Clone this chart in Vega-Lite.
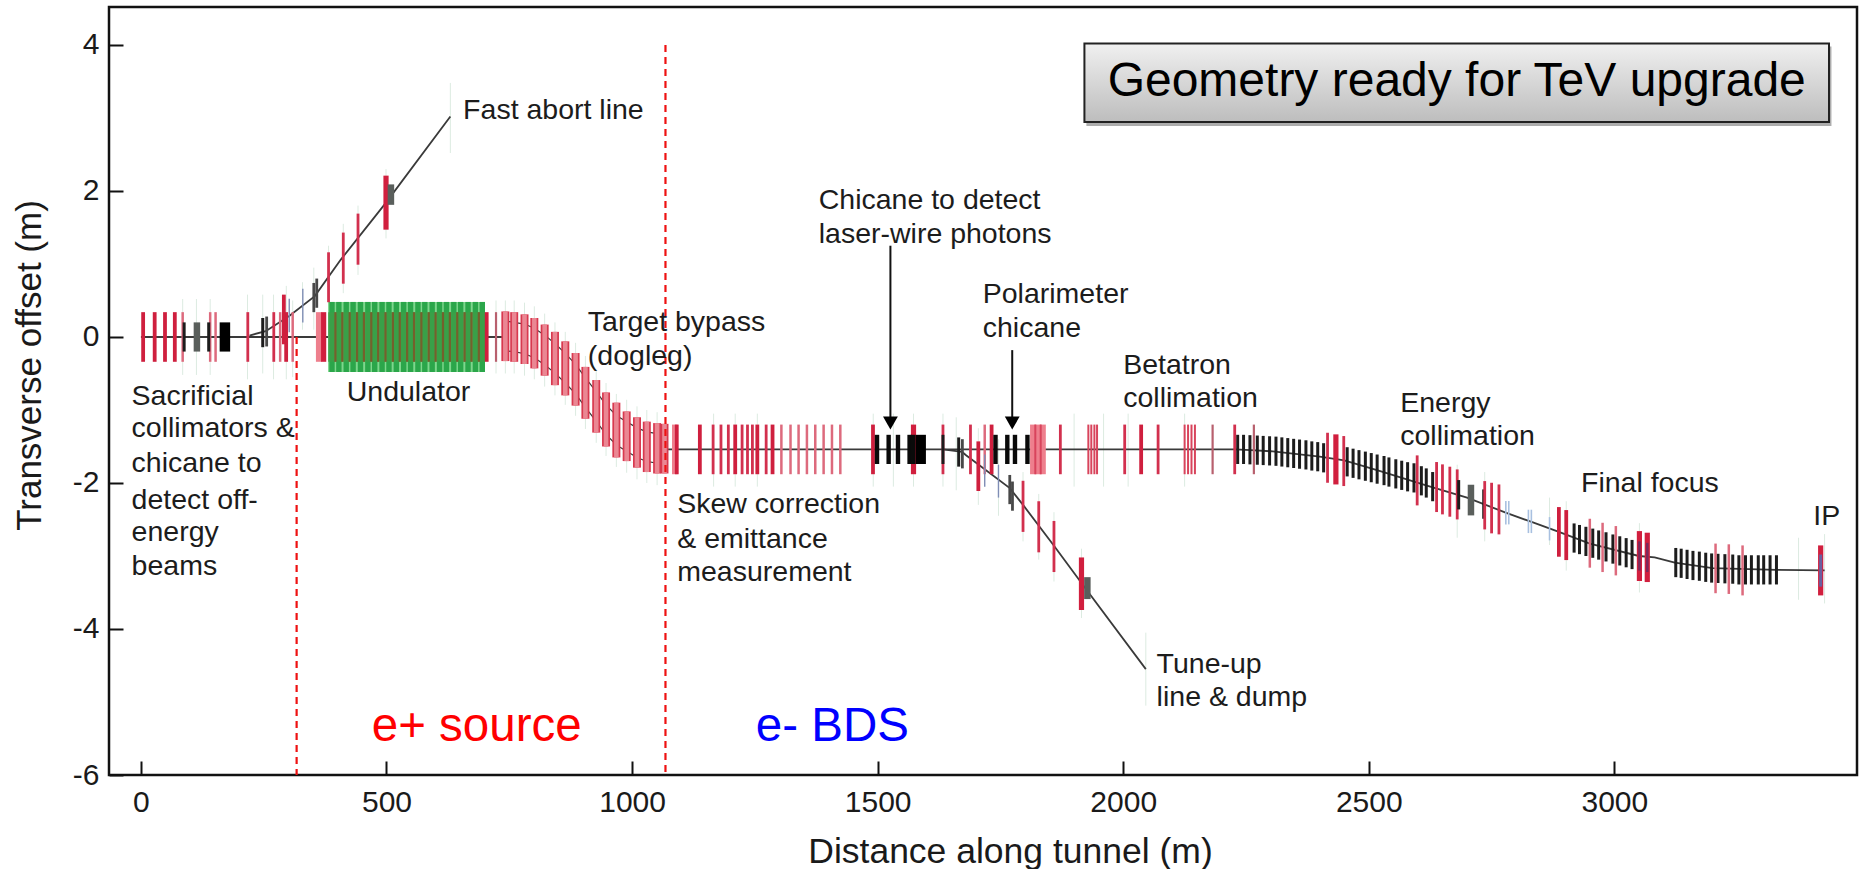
{"$schema":"https://vega.github.io/schema/vega-lite/v6.json","width":1748,"height":768,"autosize":"none","padding":{"left":109,"top":7,"right":7,"bottom":94},"background":"#ffffff","config":{"font":"Liberation Sans","view":{"stroke":"#111111","strokeWidth":2.5}},
"datasets":{
"box":[{"s":1925,"s2":3442,"y":3.98,"y2":2.89,"kind":"shadow"}],
"boxmain":[{"s":1921,"s2":3437,"y":4.02,"y2":2.944}],
"halo":[{"s":85,"y":0.52,"y2":-0.52},{"s":113,"y":0.52,"y2":-0.52},{"s":141,"y":0.52,"y2":-0.52},{"s":217,"y":0.58,"y2":-0.58},{"s":248,"y":0.58,"y2":-0.5},{"s":270,"y":0.58,"y2":-0.58},{"s":296,"y":0.7,"y2":-0.58},{"s":309,"y":0.5,"y2":-0.55},{"s":329,"y":0.75,"y2":0.1},{"s":352,"y":0.95,"y2":0.1},{"s":382,"y":1.25,"y2":0.5},{"s":412,"y":1.55,"y2":0.6},{"s":442,"y":1.8,"y2":0.85},{"s":499,"y":2.3,"y2":1.35},{"s":630,"y":3.48,"y2":2.52},{"s":723,"y":0.5,"y2":-0.5},{"s":742,"y":0.5,"y2":-0.5},{"s":760,"y":0.5,"y2":-0.5},{"s":781,"y":0.47,"y2":-0.53},{"s":801,"y":0.42,"y2":-0.58},{"s":822,"y":0.32,"y2":-0.68},{"s":843,"y":0.2,"y2":-0.8},{"s":864,"y":0.07,"y2":-0.93},{"s":885,"y":-0.08,"y2":-1.08},{"s":905,"y":-0.26,"y2":-1.26},{"s":927,"y":-0.45,"y2":-1.45},{"s":947,"y":-0.63,"y2":-1.63},{"s":968,"y":-0.78,"y2":-1.78},{"s":989,"y":-0.86,"y2":-1.86},{"s":1010,"y":-0.95,"y2":-1.95},{"s":1030,"y":-1.0,"y2":-2.0},{"s":1051,"y":-1.03,"y2":-2.03},{"s":1166,"y":-1.05,"y2":-2.05},{"s":1210,"y":-1.05,"y2":-2.05},{"s":1255,"y":-1.05,"y2":-2.05},{"s":1491,"y":-1.05,"y2":-2.05},{"s":1532,"y":-1.05,"y2":-2.05},{"s":1573,"y":-1.05,"y2":-2.05},{"s":1633,"y":-1.05,"y2":-2.05},{"s":1660,"y":-1.1,"y2":-2.1},{"s":1705,"y":-1.25,"y2":-2.3},{"s":1746,"y":-1.4,"y2":-2.45},{"s":1796,"y":-1.85,"y2":-2.8},{"s":1828,"y":-2.15,"y2":-3.05},{"s":1859,"y":-2.4,"y2":-3.35},{"s":1915,"y":-2.9,"y2":-3.85},{"s":2046,"y":-4.05,"y2":-5.05},{"s":1900,"y":-1.05,"y2":-2.05},{"s":1960,"y":-1.05,"y2":-2.05},{"s":2125,"y":-1.05,"y2":-2.05},{"s":2010,"y":-1.05,"y2":-2.05},{"s":2680,"y":-1.75,"y2":-2.75},{"s":2736,"y":-1.85,"y2":-2.8},{"s":2868,"y":-2.2,"y2":-2.85},{"s":2902,"y":-2.25,"y2":-3.2},{"s":3051,"y":-2.55,"y2":-3.5},{"s":3375,"y":-2.75,"y2":-3.6},{"s":3428,"y":-2.7,"y2":-3.65}],
"beam":[{"s":0,"y":0,"seg":"a"},{"s":740,"y":0,"seg":"a"},
{"s":1070,"y":-1.54,"seg":"c"},{"s":2227,"y":-1.54,"seg":"c"},{"s":2260,"y":-1.55,"seg":"c"},{"s":2300,"y":-1.565,"seg":"c"},{"s":2400,"y":-1.64,"seg":"c"},{"s":2450,"y":-1.69,"seg":"c"},{"s":2520,"y":-1.83,"seg":"c"},{"s":2620,"y":-2.04,"seg":"c"},{"s":2700,"y":-2.2,"seg":"c"},{"s":2780,"y":-2.41,"seg":"c"},{"s":2830,"y":-2.53,"seg":"c"},{"s":2887,"y":-2.67,"seg":"c"},{"s":2950,"y":-2.83,"seg":"c"},{"s":3050,"y":-3.0,"seg":"c"},{"s":3082,"y":-3.02,"seg":"c"},{"s":3123,"y":-3.09,"seg":"c"},{"s":3200,"y":-3.165,"seg":"c"},{"s":3330,"y":-3.19,"seg":"c"},{"s":3428,"y":-3.197,"seg":"c"},
{"s":221,"y":0.02,"seg":"f"},{"s":254,"y":0.08,"seg":"f"},{"s":302,"y":0.287,"seg":"f"},{"s":354,"y":0.56,"seg":"f"},{"s":407,"y":1.06,"seg":"f"},{"s":499,"y":1.84,"seg":"f"},{"s":630,"y":3.02,"seg":"f"},
{"s":1633,"y":-1.54,"seg":"t"},{"s":1672,"y":-1.575,"seg":"t"},{"s":1680,"y":-1.62,"seg":"t"},{"s":1769,"y":-2.07,"seg":"t"},{"s":1796,"y":-2.3,"seg":"t"},{"s":1859,"y":-2.86,"seg":"t"},{"s":1915,"y":-3.37,"seg":"t"},{"s":2046,"y":-4.55,"seg":"t"}],
"rail":[{"s":741,"y":0.22,"seg":"u"},{"s":760,"y":0.2,"seg":"u"},{"s":781,"y":0.177,"seg":"u"},{"s":801,"y":0.12,"seg":"u"},{"s":822,"y":0.025,"seg":"u"},{"s":843,"y":-0.09,"seg":"u"},{"s":864,"y":-0.225,"seg":"u"},{"s":885,"y":-0.375,"seg":"u"},{"s":905,"y":-0.56,"seg":"u"},{"s":927,"y":-0.75,"seg":"u"},{"s":947,"y":-0.93,"seg":"u"},{"s":968,"y":-1.075,"seg":"u"},{"s":989,"y":-1.16,"seg":"u"},{"s":1010,"y":-1.245,"seg":"u"},{"s":1030,"y":-1.3,"seg":"u"},{"s":1051,"y":-1.325,"seg":"u"},{"s":1070,"y":-1.33,"seg":"u"},
{"s":741,"y":-0.19,"seg":"l"},{"s":760,"y":-0.2,"seg":"l"},{"s":781,"y":-0.23,"seg":"l"},{"s":801,"y":-0.285,"seg":"l"},{"s":822,"y":-0.38,"seg":"l"},{"s":843,"y":-0.495,"seg":"l"},{"s":864,"y":-0.63,"seg":"l"},{"s":885,"y":-0.78,"seg":"l"},{"s":905,"y":-0.965,"seg":"l"},{"s":927,"y":-1.155,"seg":"l"},{"s":947,"y":-1.335,"seg":"l"},{"s":968,"y":-1.48,"seg":"l"},{"s":989,"y":-1.565,"seg":"l"},{"s":1010,"y":-1.65,"seg":"l"},{"s":1030,"y":-1.705,"seg":"l"},{"s":1051,"y":-1.73,"seg":"l"},{"s":1070,"y":-1.73,"seg":"l"}],
"dogleg":[{"s":742,"y":0.35,"y2":-0.33},{"s":760,"y":0.34,"y2":-0.34},{"s":781,"y":0.31,"y2":-0.37},{"s":801,"y":0.26,"y2":-0.43},{"s":822,"y":0.17,"y2":-0.53},{"s":843,"y":0.07,"y2":-0.66},{"s":864,"y":-0.06,"y2":-0.8},{"s":885,"y":-0.22,"y2":-0.94},{"s":905,"y":-0.41,"y2":-1.12},{"s":927,"y":-0.59,"y2":-1.31},{"s":947,"y":-0.76,"y2":-1.5},{"s":968,"y":-0.9,"y2":-1.65},{"s":989,"y":-1.02,"y2":-1.7},{"s":1010,"y":-1.1,"y2":-1.79},{"s":1030,"y":-1.16,"y2":-1.85},{"s":1051,"y":-1.18,"y2":-1.87},{"s":1066,"y":-1.19,"y2":-1.87}],
"undrect":[{"s":381,"s2":700,"y":0.48,"y2":-0.48}],
"undinner":[{"s":381,"s2":700,"y":0.34,"y2":-0.34}],
"undcell":[{"s":389,"y":0.48,"y2":-0.48},{"s":403,"y":0.48,"y2":-0.48},{"s":418,"y":0.48,"y2":-0.48},{"s":432,"y":0.48,"y2":-0.48},{"s":447,"y":0.48,"y2":-0.48},{"s":462,"y":0.48,"y2":-0.48},{"s":476,"y":0.48,"y2":-0.48},{"s":491,"y":0.48,"y2":-0.48},{"s":505,"y":0.48,"y2":-0.48},{"s":520,"y":0.48,"y2":-0.48},{"s":535,"y":0.48,"y2":-0.48},{"s":549,"y":0.48,"y2":-0.48},{"s":564,"y":0.48,"y2":-0.48},{"s":578,"y":0.48,"y2":-0.48},{"s":593,"y":0.48,"y2":-0.48},{"s":608,"y":0.48,"y2":-0.48},{"s":622,"y":0.48,"y2":-0.48},{"s":637,"y":0.48,"y2":-0.48},{"s":651,"y":0.48,"y2":-0.48},{"s":666,"y":0.48,"y2":-0.48},{"s":681,"y":0.48,"y2":-0.48},{"s":695,"y":0.48,"y2":-0.48}],
"undcoil":[{"s":396,"y":0.34,"y2":-0.34},{"s":410,"y":0.34,"y2":-0.34},{"s":425,"y":0.34,"y2":-0.34},{"s":440,"y":0.34,"y2":-0.34},{"s":454,"y":0.34,"y2":-0.34},{"s":469,"y":0.34,"y2":-0.34},{"s":483,"y":0.34,"y2":-0.34},{"s":498,"y":0.34,"y2":-0.34},{"s":513,"y":0.34,"y2":-0.34},{"s":527,"y":0.34,"y2":-0.34},{"s":542,"y":0.34,"y2":-0.34},{"s":556,"y":0.34,"y2":-0.34},{"s":571,"y":0.34,"y2":-0.34},{"s":586,"y":0.34,"y2":-0.34},{"s":600,"y":0.34,"y2":-0.34},{"s":615,"y":0.34,"y2":-0.34},{"s":629,"y":0.34,"y2":-0.34},{"s":644,"y":0.34,"y2":-0.34},{"s":659,"y":0.34,"y2":-0.34},{"s":673,"y":0.34,"y2":-0.34},{"s":688,"y":0.34,"y2":-0.34}],
"elements":[
{"s":4.5,"y":0.34,"y2":-0.34,"kind":"red"},{"s":28,"y":0.34,"y2":-0.34,"kind":"red"},{"s":49,"y":0.34,"y2":-0.34,"kind":"red"},{"s":69,"y":0.34,"y2":-0.34,"kind":"red"},{"s":85,"y":0.34,"y2":-0.34,"kind":"pink"},{"s":88,"y":0.2,"y2":-0.2,"kind":"blackthin"},{"s":114,"y":0.2,"y2":-0.2,"kind":"gray"},{"s":141,"y":0.34,"y2":-0.34,"kind":"pink"},{"s":152,"y":0.34,"y2":-0.34,"kind":"pink"},{"s":138,"y":0.2,"y2":-0.2,"kind":"blackthin"},{"s":171,"y":0.2,"y2":-0.2,"kind":"blackblock"},{"s":217.6,"y":0.34,"y2":-0.34,"kind":"redthin"},{"s":248,"y":0.26,"y2":-0.14,"kind":"blackthin"},{"s":256,"y":0.28,"y2":-0.13,"kind":"graythin"},{"s":270.5,"y":0.34,"y2":-0.34,"kind":"redthin"},{"s":283.5,"y":0.34,"y2":-0.34,"kind":"pink"},{"s":295.7,"y":0.34,"y2":-0.34,"kind":"red"},{"s":309,"y":0.34,"y2":-0.34,"kind":"pink"},{"s":291,"y":0.58,"y2":-0.1,"kind":"red"},{"s":302,"y":0.525,"y2":0.065,"kind":"blue"},{"s":329.6,"y":0.66,"y2":0.2,"kind":"blue"},{"s":352,"y":0.74,"y2":0.34,"kind":"graythin"},{"s":358,"y":0.8,"y2":0.4,"kind":"graythin"},{"s":362,"y":0.34,"y2":-0.34,"kind":"pinkblock"},{"s":372,"y":0.34,"y2":-0.34,"kind":"redthick"},{"s":382,"y":1.16,"y2":0.476,"kind":"redthin"},{"s":412,"y":1.43,"y2":0.73,"kind":"redthin"},{"s":442,"y":1.69,"y2":0.99,"kind":"redthin"},{"s":499,"y":2.21,"y2":1.47,"kind":"redthick"},{"s":509,"y":2.09,"y2":1.81,"kind":"gray"},{"s":704,"y":0.34,"y2":-0.34,"kind":"red"},{"s":723,"y":0.34,"y2":-0.34,"kind":"dim"},
{"s":1087,"y":-1.2,"y2":-1.88,"kind":"pinkblock"},{"s":1091,"y":-1.2,"y2":-1.88,"kind":"red"},{"s":1138,"y":-1.2,"y2":-1.88,"kind":"red"},{"s":1165,"y":-1.2,"y2":-1.88,"kind":"redthin"},{"s":1181,"y":-1.2,"y2":-1.88,"kind":"redthin"},{"s":1196,"y":-1.2,"y2":-1.88,"kind":"redthin"},{"s":1210,"y":-1.2,"y2":-1.88,"kind":"red"},{"s":1224,"y":-1.2,"y2":-1.88,"kind":"redthin"},{"s":1235,"y":-1.2,"y2":-1.88,"kind":"redthin"},{"s":1245,"y":-1.2,"y2":-1.88,"kind":"redthin"},{"s":1255,"y":-1.2,"y2":-1.88,"kind":"red"},{"s":1273,"y":-1.2,"y2":-1.88,"kind":"redthin"},{"s":1286,"y":-1.2,"y2":-1.88,"kind":"red"},{"s":1304,"y":-1.2,"y2":-1.88,"kind":"pink"},{"s":1322.6,"y":-1.2,"y2":-1.88,"kind":"pink"},{"s":1339,"y":-1.2,"y2":-1.88,"kind":"pink"},{"s":1356,"y":-1.2,"y2":-1.88,"kind":"pink"},{"s":1373,"y":-1.2,"y2":-1.88,"kind":"pink"},{"s":1390,"y":-1.2,"y2":-1.88,"kind":"pink"},{"s":1407,"y":-1.2,"y2":-1.88,"kind":"pink"},{"s":1424,"y":-1.2,"y2":-1.88,"kind":"pink"},
{"s":1490.5,"y":-1.2,"y2":-1.88,"kind":"red"},{"s":1573,"y":-1.2,"y2":-1.88,"kind":"redthick"},{"s":1498.7,"y":-1.34,"y2":-1.74,"kind":"black"},{"s":1522.4,"y":-1.34,"y2":-1.74,"kind":"black"},{"s":1541.4,"y":-1.34,"y2":-1.74,"kind":"black"},{"s":1565,"y":-1.34,"y2":-1.74,"kind":"black"},{"s":1572,"y":-1.34,"y2":-1.74,"kind":"black"},{"s":1587.6,"y":-1.34,"y2":-1.74,"kind":"blackblock"},{"s":1633,"y":-1.2,"y2":-1.88,"kind":"redthin"},{"s":1633,"y":-1.34,"y2":-1.74,"kind":"blackthin"},{"s":1665,"y":-1.376,"y2":-1.776,"kind":"blackthin"},{"s":1672.5,"y":-1.4,"y2":-1.8,"kind":"graythin"},{"s":1689,"y":-1.2,"y2":-1.88,"kind":"redthin"},{"s":1705,"y":-1.43,"y2":-2.11,"kind":"red"},{"s":1718,"y":-1.2,"y2":-1.88,"kind":"pink"},{"s":1718,"y":-1.61,"y2":-2.05,"kind":"blue"},{"s":1732,"y":-1.2,"y2":-1.88,"kind":"red"},{"s":1740,"y":-1.34,"y2":-1.74,"kind":"black"},{"s":1746,"y":-1.75,"y2":-2.2,"kind":"blue"},{"s":1764,"y":-1.34,"y2":-1.74,"kind":"black"},{"s":1779.6,"y":-1.34,"y2":-1.74,"kind":"black"},{"s":1805,"y":-1.34,"y2":-1.74,"kind":"black"},{"s":1769,"y":-1.89,"y2":-2.29,"kind":"graythin"},{"s":1774.5,"y":-1.98,"y2":-2.38,"kind":"graythin"},{"s":1796,"y":-1.97,"y2":-2.67,"kind":"redthin"},{"s":1828,"y":-2.25,"y2":-2.95,"kind":"redthin"},{"s":1859,"y":-2.52,"y2":-3.22,"kind":"redthin"},{"s":1915,"y":-3.02,"y2":-3.74,"kind":"redthick"},{"s":1927,"y":-3.29,"y2":-3.59,"kind":"gray"},
{"s":1816,"y":-1.2,"y2":-1.88,"kind":"pinkblock"},{"s":1826.5,"y":-1.2,"y2":-1.88,"kind":"pinkblock"},{"s":1836.7,"y":-1.2,"y2":-1.88,"kind":"pinkblock"},{"s":1821,"y":-1.2,"y2":-1.88,"kind":"stripe"},{"s":1832,"y":-1.2,"y2":-1.88,"kind":"stripe"},{"s":1872,"y":-1.2,"y2":-1.88,"kind":"redthin"},{"s":1929,"y":-1.2,"y2":-1.88,"kind":"stripe"},{"s":1935,"y":-1.2,"y2":-1.88,"kind":"stripe"},{"s":1941.3,"y":-1.2,"y2":-1.88,"kind":"stripe"},{"s":1946.7,"y":-1.2,"y2":-1.88,"kind":"stripe"},{"s":2003,"y":-1.2,"y2":-1.88,"kind":"redthin"},{"s":2036.5,"y":-1.2,"y2":-1.88,"kind":"red"},{"s":2071,"y":-1.2,"y2":-1.88,"kind":"redthin"},{"s":2125,"y":-1.2,"y2":-1.88,"kind":"stripe"},{"s":2132,"y":-1.2,"y2":-1.88,"kind":"stripe"},{"s":2139,"y":-1.2,"y2":-1.88,"kind":"stripe"},{"s":2146,"y":-1.2,"y2":-1.88,"kind":"stripe"},{"s":2182,"y":-1.2,"y2":-1.88,"kind":"dim"},
{"s":2233,"y":-1.34,"y2":-1.74,"kind":"blackthin"},{"s":2245,"y":-1.34,"y2":-1.74,"kind":"blackthin"},{"s":2258,"y":-1.345,"y2":-1.745,"kind":"blackthin"},{"s":2273,"y":-1.35,"y2":-1.75,"kind":"blackthin"},{"s":2285,"y":-1.355,"y2":-1.755,"kind":"blackthin"},{"s":2298,"y":-1.36,"y2":-1.76,"kind":"blackthin"},{"s":2311,"y":-1.365,"y2":-1.765,"kind":"blackthin"},{"s":2323,"y":-1.375,"y2":-1.775,"kind":"blackthin"},{"s":2335,"y":-1.385,"y2":-1.785,"kind":"blackthin"},{"s":2347,"y":-1.395,"y2":-1.795,"kind":"blackthin"},{"s":2359,"y":-1.405,"y2":-1.805,"kind":"blackthin"},{"s":2372,"y":-1.415,"y2":-1.815,"kind":"blackthin"},{"s":2384,"y":-1.43,"y2":-1.83,"kind":"blackthin"},{"s":2396,"y":-1.44,"y2":-1.84,"kind":"blackthin"},{"s":2408,"y":-1.455,"y2":-1.855,"kind":"blackthin"},{"s":2456,"y":-1.51,"y2":-1.91,"kind":"blackthin"},{"s":2468,"y":-1.53,"y2":-1.93,"kind":"blackthin"},{"s":2480,"y":-1.55,"y2":-1.95,"kind":"blackthin"},{"s":2493,"y":-1.57,"y2":-1.97,"kind":"blackthin"},{"s":2505,"y":-1.59,"y2":-1.99,"kind":"blackthin"},{"s":2517,"y":-1.61,"y2":-2.01,"kind":"blackthin"},{"s":2531,"y":-1.63,"y2":-2.03,"kind":"blackthin"},{"s":2541,"y":-1.65,"y2":-2.05,"kind":"blackthin"},{"s":2555,"y":-1.675,"y2":-2.075,"kind":"blackthin"},{"s":2567,"y":-1.695,"y2":-2.095,"kind":"blackthin"},{"s":2579,"y":-1.715,"y2":-2.115,"kind":"blackthin"},{"s":2592,"y":-1.73,"y2":-2.13,"kind":"blackthin"},{"s":2607,"y":-1.77,"y2":-2.17,"kind":"blackthin"},{"s":2617,"y":-1.8,"y2":-2.2,"kind":"blackthin"},{"s":2630,"y":-1.85,"y2":-2.25,"kind":"blackthin"},
{"s":2227,"y":-1.2,"y2":-1.88,"kind":"redthin"},{"s":2266,"y":-1.2,"y2":-1.88,"kind":"dim"},{"s":2416,"y":-1.312,"y2":-1.997,"kind":"redthin"},{"s":2433,"y":-1.334,"y2":-2.02,"kind":"redthick"},{"s":2449,"y":-1.357,"y2":-2.042,"kind":"redthin"},{"s":2598.5,"y":-1.622,"y2":-2.307,"kind":"redthin"},{"s":2638,"y":-1.713,"y2":-2.398,"kind":"redthin"},{"s":2650,"y":-1.745,"y2":-2.43,"kind":"redthin"},{"s":2665,"y":-1.777,"y2":-2.462,"kind":"redthin"},{"s":2680,"y":-1.814,"y2":-2.499,"kind":"redthin"},{"s":2683,"y":-1.96,"y2":-2.362,"kind":"blackthin"},{"s":2708,"y":-2.024,"y2":-2.444,"kind":"gray"},{"s":2734,"y":-2.088,"y2":-2.49,"kind":"blackthin"},{"s":2736,"y":-1.974,"y2":-2.636,"kind":"redthin"},{"s":2750,"y":-1.997,"y2":-2.69,"kind":"redthin"},{"s":2765,"y":-2.02,"y2":-2.704,"kind":"redthin"},
{"s":2779,"y":-2.247,"y2":-2.567,"kind":"paleblue"},{"s":2785,"y":-2.247,"y2":-2.567,"kind":"paleblue"},{"s":2825,"y":-2.366,"y2":-2.686,"kind":"paleblue"},{"s":2831,"y":-2.366,"y2":-2.686,"kind":"paleblue"},{"s":2868,"y":-2.467,"y2":-2.787,"kind":"paleblue"},{"s":2887,"y":-2.33,"y2":-3.01,"kind":"red"},{"s":2902,"y":-2.371,"y2":-3.056,"kind":"red"},
{"s":2918,"y":-2.554,"y2":-2.954,"kind":"blackthin"},{"s":2929,"y":-2.575,"y2":-2.975,"kind":"blackthin"},{"s":2942,"y":-2.6,"y2":-3.0,"kind":"blackthin"},{"s":2956,"y":-2.625,"y2":-3.025,"kind":"blackthin"},{"s":2968,"y":-2.65,"y2":-3.05,"kind":"blackthin"},{"s":2983,"y":-2.675,"y2":-3.075,"kind":"blackthin"},{"s":2997,"y":-2.705,"y2":-3.105,"kind":"blackthin"},{"s":3011,"y":-2.73,"y2":-3.13,"kind":"blackthin"},{"s":3024,"y":-2.755,"y2":-3.155,"kind":"blackthin"},{"s":3036,"y":-2.78,"y2":-3.18,"kind":"blackthin"},
{"s":2950,"y":-2.49,"y2":-3.16,"kind":"pink"},{"s":2976,"y":-2.545,"y2":-3.22,"kind":"pink"},{"s":3003,"y":-2.59,"y2":-3.266,"kind":"pink"},{"s":3051,"y":-2.659,"y2":-3.343,"kind":"redthick"},{"s":3067,"y":-2.681,"y2":-3.357,"kind":"redthick"},{"s":3051,"y":-2.8,"y2":-3.2,"kind":"purple"},{"s":3067,"y":-2.82,"y2":-3.22,"kind":"purple"},
{"s":3125,"y":-2.89,"y2":-3.29,"kind":"blackthin"},{"s":3136,"y":-2.9,"y2":-3.3,"kind":"blackthin"},{"s":3148,"y":-2.915,"y2":-3.315,"kind":"blackthin"},{"s":3160,"y":-2.93,"y2":-3.33,"kind":"blackthin"},{"s":3173,"y":-2.94,"y2":-3.34,"kind":"blackthin"},{"s":3186,"y":-2.955,"y2":-3.355,"kind":"blackthin"},{"s":3198,"y":-2.965,"y2":-3.365,"kind":"blackthin"},{"s":3211,"y":-2.97,"y2":-3.37,"kind":"blackthin"},{"s":3225,"y":-2.975,"y2":-3.375,"kind":"blackthin"},{"s":3241,"y":-2.98,"y2":-3.38,"kind":"blackthin"},{"s":3253.5,"y":-2.99,"y2":-3.39,"kind":"blackthin"},{"s":3267,"y":-2.99,"y2":-3.39,"kind":"blackthin"},{"s":3279,"y":-2.99,"y2":-3.39,"kind":"blackthin"},{"s":3293,"y":-2.99,"y2":-3.39,"kind":"blackthin"},{"s":3304,"y":-2.99,"y2":-3.39,"kind":"blackthin"},{"s":3317,"y":-2.99,"y2":-3.39,"kind":"blackthin"},{"s":3330,"y":-2.99,"y2":-3.39,"kind":"blackthin"},
{"s":3206,"y":-2.83,"y2":-3.51,"kind":"pink"},{"s":3233,"y":-2.84,"y2":-3.52,"kind":"pink"},{"s":3261,"y":-2.855,"y2":-3.54,"kind":"pink"},{"s":3420,"y":-2.855,"y2":-3.54,"kind":"redthick"},{"s":3420,"y":-2.98,"y2":-3.42,"kind":"ipblue"}
],
"dash":[{"s":317,"y":0,"y2":-6},{"s":1068,"y":4,"y2":-6}],
"arrowline":[{"s":1526,"y":1.25,"y2":-1.12},{"s":1774,"y":-0.18,"y2":-1.12}],
"arrowhead":[{"s":1526,"y":-1.178},{"s":1774,"y":-1.178}],
"labels":[{"s":656,"y":3.13,"label":"Fast abort line"},{"s":910,"y":0.228,"label":"Target bypass"},{"s":910,"y":-0.228,"label":"(dogleg)"},{"s":-19,"y":-0.78,"label":"Sacrificial"},{"s":-19,"y":-1.22,"label":"collimators &"},{"s":-19,"y":-1.7,"label":"chicane to"},{"s":-19,"y":-2.2,"label":"detect off-"},{"s":-19,"y":-2.65,"label":"energy"},{"s":-19,"y":-3.11,"label":"beams"},{"s":419,"y":-0.733,"label":"Undulator"},{"s":1092,"y":-2.264,"label":"Skew correction"},{"s":1092,"y":-2.736,"label":"& emittance"},{"s":1092,"y":-3.19,"label":"measurement"},{"s":1380,"y":1.906,"label":"Chicane to detect"},{"s":1380,"y":1.433,"label":"laser-wire photons"},{"s":1714,"y":0.619,"label":"Polarimeter"},{"s":1714,"y":0.147,"label":"chicane"},{"s":2000,"y":-0.358,"label":"Betatron"},{"s":2000,"y":-0.814,"label":"collimation"},{"s":2564,"y":-0.88,"label":"Energy"},{"s":2564,"y":-1.335,"label":"collimation"},{"s":2932,"y":-1.97,"label":"Final focus"},{"s":3405,"y":-2.43,"label":"IP"},{"s":2068,"y":-4.45,"label":"Tune-up"},{"s":2068,"y":-4.9,"label":"line & dump"}],
"positron":[{"s":470,"y":-5.34,"label":"e+ source"}],
"electron":[{"s":1252,"y":-5.34,"label":"e- BDS"}],
"boxtext":[{"s":2679,"y":3.49,"label":"Geometry ready for TeV upgrade"}]
},
"encoding":{
"x":{"field":"s","type":"quantitative","scale":{"domain":[-65,3494],"nice":false,"zero":false},"axis":{"values":[0,500,1000,1500,2000,2500,3000],"title":"Distance along tunnel (m)","titleFontSize":35.5,"titleFontWeight":"normal","titleColor":"#1a1a1a","titleX":901,"titleY":76,"titleBaseline":"middle","titleAnchor":"middle","labelFontSize":30,"labelColor":"#1a1a1a","labelPadding":26,"tickSize":-14,"tickColor":"#111111","tickWidth":2,"domain":false,"grid":false,"labelFlush":false,"labelOverlap":false,"labelExpr":"'' + datum.value"}},
"y":{"field":"y","type":"quantitative","scale":{"domain":[-6,4.52],"nice":false,"zero":false},"axis":{"values":[-6,-4,-2,0,2,4],"title":"Transverse offset (m)","titleFontSize":35,"titleFontWeight":"normal","titleColor":"#1a1a1a","titleX":-80,"titleY":358,"titleAngle":-90,"titleBaseline":"middle","titleAnchor":"middle","labelFontSize":30,"labelColor":"#1a1a1a","labelPadding":24,"tickSize":-14,"tickColor":"#111111","tickWidth":2,"domain":false,"grid":false,"labelOverlap":false,"labelExpr":"'' + datum.value"}}
},
"layer":[
{"data":{"name":"box"},"mark":{"type":"rect","color":"#8a8a8a","opacity":0.7},"encoding":{"x2":{"field":"s2"},"y2":{"field":"y2"}}},
{"data":{"name":"boxmain"},"mark":{"type":"rect","stroke":"#222222","strokeWidth":2,"color":{"gradient":"linear","x1":0,"y1":0,"x2":0,"y2":1,"stops":[{"offset":0,"color":"#f0f0f0"},{"offset":1,"color":"#bdbdbd"}]}},"encoding":{"x2":{"field":"s2"},"y2":{"field":"y2"}}},
{"data":{"name":"boxtext"},"mark":{"type":"text","fontSize":48,"align":"center","baseline":"middle","color":"#000000"},"encoding":{"text":{"field":"label"}}},
{"data":{"name":"halo"},"mark":{"type":"rule","color":"#dcebe1","strokeWidth":1},"encoding":{"y2":{"field":"y2"}}},
{"data":{"name":"beam"},"mark":{"type":"line","color":"#3a3a3a","strokeWidth":1.8},"encoding":{"detail":{"field":"seg"}}},
{"data":{"name":"rail"},"mark":{"type":"line","color":"#3a3a3a","strokeWidth":1.2},"encoding":{"detail":{"field":"seg"}}},
{"data":{"name":"dogleg"},"mark":{"type":"rule","color":"#d8394f","strokeWidth":8},"encoding":{"y2":{"field":"y2"}}},
{"data":{"name":"dogleg"},"mark":{"type":"rule","color":"#ea8793","strokeWidth":4.6},"encoding":{"y2":{"field":"y2"}}},
{"data":{"name":"undrect"},"mark":{"type":"rect","color":"#7ed68d"},"encoding":{"x2":{"field":"s2"},"y2":{"field":"y2"}}},
{"data":{"name":"undcell"},"mark":{"type":"rule","color":"#2ba64a","strokeWidth":5.4},"encoding":{"y2":{"field":"y2"}}},
{"data":{"name":"undinner"},"mark":{"type":"rect","color":"#3f9e48","opacity":0.75},"encoding":{"x2":{"field":"s2"},"y2":{"field":"y2"}}},
{"data":{"name":"undcoil"},"mark":{"type":"rule","color":"#75602c","strokeWidth":2.2},"encoding":{"y2":{"field":"y2"}}},
{"data":{"name":"elements"},"mark":{"type":"rule"},"encoding":{"y2":{"field":"y2"},
"color":{"field":"kind","type":"nominal","legend":null,"scale":{"domain":["red","redthick","redthin","pink","pinkblock","dim","stripe","black","blackthin","blackblock","gray","graythin","blue","paleblue","purple","ipblue"],"range":["#cf1f3e","#d11f3e","#d2304e","#dd6a7d","#ee7f8d","#b8606e","#d8445c","#0a0a0a","#1c1c1c","#000000","#5a5f5c","#484848","#7f8db5","#a8c0e0","#7a2a5c","#6a5fa0"]}},
"strokeWidth":{"field":"kind","type":"nominal","legend":null,"scale":{"type":"ordinal","domain":["red","redthick","redthin","pink","pinkblock","dim","stripe","black","blackthin","blackblock","gray","graythin","blue","paleblue","purple","ipblue"],"range":[3.8,5.2,2.8,2.5,5.6,2.2,2,4.4,3,10.5,6.5,2.8,1.4,1.6,2.5,3]}}}},
{"data":{"name":"dash"},"mark":{"type":"rule","color":"#ee1111","strokeWidth":2.2,"strokeDash":[7,5]},"encoding":{"y2":{"field":"y2"}}},
{"data":{"name":"arrowline"},"mark":{"type":"rule","color":"#111111","strokeWidth":2},"encoding":{"y2":{"field":"y2"}}},
{"data":{"name":"arrowhead"},"mark":{"type":"point","shape":"triangle-down","filled":true,"color":"#000000","opacity":1,"size":220}},
{"data":{"name":"labels"},"mark":{"type":"text","fontSize":28.5,"align":"left","baseline":"middle","dy":2,"color":"#1c1c1c"},"encoding":{"text":{"field":"label"}}},
{"data":{"name":"positron"},"mark":{"type":"text","fontSize":47.5,"align":"left","baseline":"middle","color":"#ff0000"},"encoding":{"text":{"field":"label"}}},
{"data":{"name":"electron"},"mark":{"type":"text","fontSize":47.5,"align":"left","baseline":"middle","color":"#0000ff"},"encoding":{"text":{"field":"label"}}}
]
}
